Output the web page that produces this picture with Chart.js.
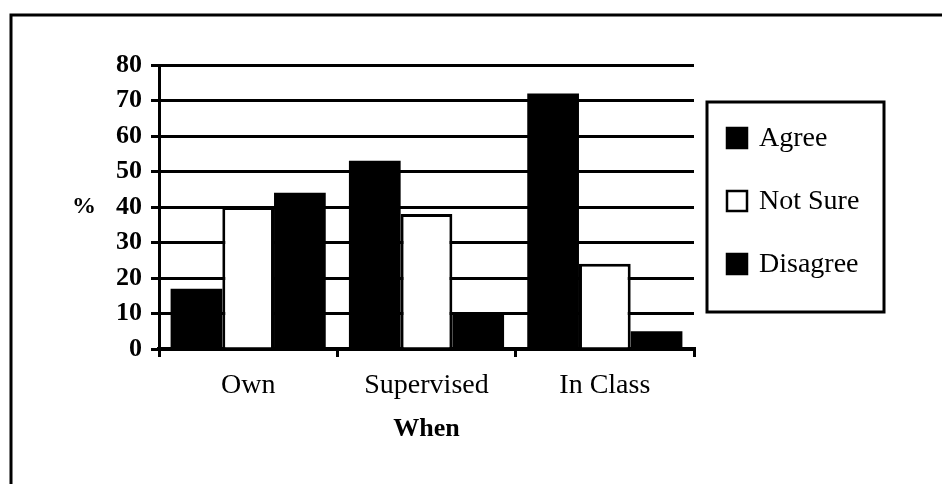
<!DOCTYPE html>
<html>
<head>
<meta charset="utf-8">
<script src="https://cdn.jsdelivr.net/npm/chart.js@4.4.1/dist/chart.umd.min.js"></script>
<style>
  html, body { margin: 0; padding: 0; background: #fff; }
  #wrap { position: relative; width: 942px; height: 484px; }
</style>
</head>
<body>
<div id="wrap"><canvas id="chart"></canvas></div>
<script>
const categories = ["Own", "Supervised", "In Class"];
const agree = [17, 53, 72];
const notSure = [40, 38, 24];
const disagree = [44, 10, 5];
const yTicks = [0, 10, 20, 30, 40, 50, 60, 70, 80];

const serif = "'Liberation Serif', 'DejaVu Serif', serif";

// frame, "%" label and boxed legend, as in the scanned figure
const extras = {
  id: 'extras',
  beforeDraw(chart) {
    const ctx = chart.ctx;
    ctx.save();
    ctx.strokeStyle = '#000';
    ctx.lineWidth = 3;
    ctx.beginPath();
    ctx.moveTo(942, 15);
    ctx.lineTo(11, 15);
    ctx.lineTo(11, 484);
    ctx.stroke();
    ctx.restore();
  },
  afterDraw(chart) {
    const ctx = chart.ctx;
    const y = chart.scales.y;
    ctx.save();
    ctx.fillStyle = '#000';
    ctx.font = "bold 24px " + serif;
    ctx.textAlign = 'center';
    ctx.textBaseline = 'middle';
    ctx.fillText('%', 84, y.getPixelForValue(40));

    // legend box
    const bx = 707, by = 102, bw = 177, bh = 210;
    ctx.lineWidth = 3;
    ctx.strokeStyle = '#000';
    ctx.strokeRect(bx, by, bw, bh);
    ctx.font = "28px " + serif;
    ctx.textAlign = 'left';
    chart.data.datasets.forEach((ds, i) => {
      const cy = 138 + i * 63;
      ctx.fillStyle = ds.backgroundColor;
      ctx.fillRect(727, cy - 10, 20, 20);
      ctx.lineWidth = 2.5;
      ctx.strokeRect(727, cy - 10, 20, 20);
      ctx.fillStyle = '#000';
      ctx.fillText(ds.label, 759, cy + 1);
    });
    ctx.restore();
  }
};

new Chart(document.getElementById('chart'), {
  type: 'bar',
  data: {
    labels: categories,
    datasets: [
      { label: 'Agree', data: agree, backgroundColor: '#000', borderColor: '#000', borderWidth: 0 },
      { label: 'Not Sure', data: notSure, backgroundColor: '#fff', borderColor: '#000', borderWidth: 3 },
      { label: 'Disagree', data: disagree, backgroundColor: '#000', borderColor: '#000', borderWidth: 0 }
    ]
  },
  options: {
    responsive: true,
    maintainAspectRatio: false,
    animation: false,
    layout: { padding: { top: 65, right: 248, left: 0, bottom: 0 } },
    datasets: { bar: { categoryPercentage: 0.87, barPercentage: 1 } },
    plugins: {
      legend: { display: false },
      tooltip: { enabled: false }
    },
    scales: {
      x: {
        afterFit(scale) { scale.height = 135; },
        grid: { offset: true, drawOnChartArea: false, drawTicks: true, tickLength: 8, color: '#000', lineWidth: 3 },
        border: { color: '#000', width: 4 },
        ticks: { color: '#000', padding: 12, font: { family: serif, size: 28 } },
        title: { display: true, text: 'When', color: '#000', font: { family: serif, size: 26, weight: 'bold' }, padding: { top: 0, bottom: 39 } }
      },
      y: {
        min: 0,
        max: 80,
        afterFit(scale) { scale.width = 159; },
        afterBuildTicks(scale) { scale.ticks = yTicks.map(v => ({ value: v })); },
        grid: { color: '#000', lineWidth: 3, tickLength: 8 },
        border: { color: '#000', width: 3 },
        ticks: { color: '#000', padding: 9, font: { family: serif, size: 26, weight: 'bold' } }
      }
    }
  },
  plugins: [extras]
});
</script>
</body>
</html>
